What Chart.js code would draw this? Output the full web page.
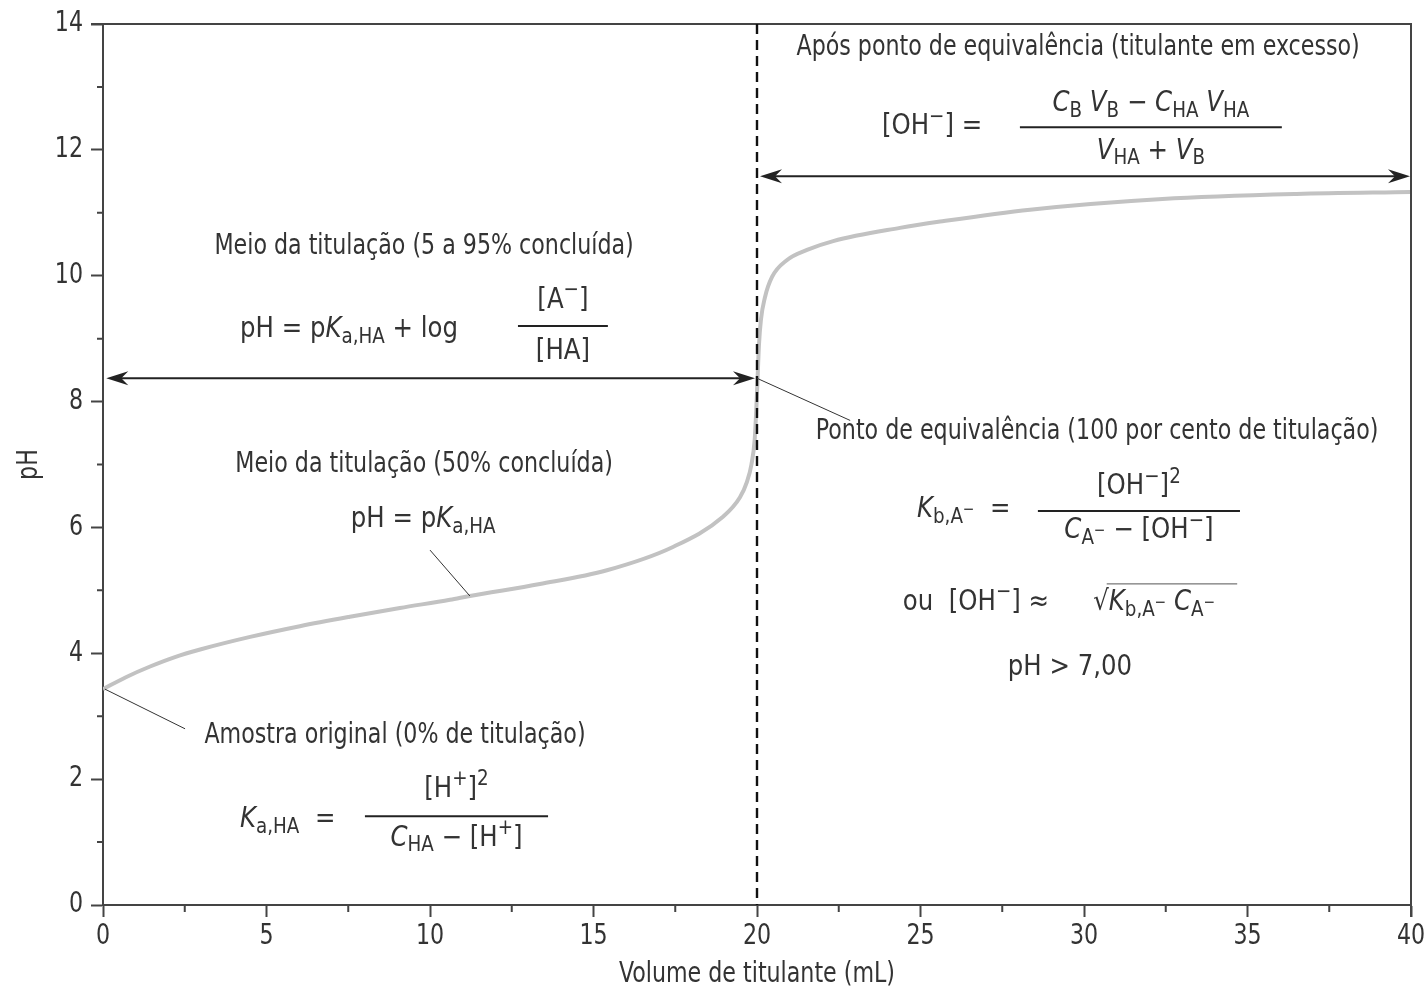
<!DOCTYPE html>
<html>
<head>
<meta charset="utf-8">
<script src="https://cdn.jsdelivr.net/npm/chart.js@4.4.1/dist/chart.umd.min.js"></script>
<style>
  html, body { margin: 0; padding: 0; background: #fff; }
  #wrap { width: 1427px; height: 992px; }
</style>
</head>
<body>
<div id="wrap"><canvas id="titulacao" width="1427" height="992"></canvas></div>
<script>
// curve: volume of titrant (mL) and pH
var volume = [0, 0.7, 1.44, 2.2, 2.97, 4.5, 6.02, 7.55, 9.08, 10.61, 11.22, 13.36, 15.41, 17.43, 18.96, 19.48, 19.69, 19.83, 19.93, 19.98, 20.02, 20.06, 20.12, 20.24, 20.46, 20.92, 21.53, 22.33, 24.37, 25.6, 28.35, 32.4, 36.5, 40];
var ph = [3.43, 3.62, 3.79, 3.94, 4.06, 4.26, 4.43, 4.58, 4.72, 4.85, 4.91, 5.10, 5.32, 5.69, 6.17, 6.48, 6.72, 7.0, 7.4, 7.9, 8.4, 8.9, 9.3, 9.65, 9.98, 10.25, 10.41, 10.55, 10.76, 10.86, 11.05, 11.22, 11.30, 11.33];

var xTicks = [0, 5, 10, 15, 20, 25, 30, 35, 40];
var yTicks = [0, 2, 4, 6, 8, 10, 12, 14];

var equivVolume = 20;
var equivPh = 8.37;
var excessArrowPh = 11.58;

var FONT = "'DejaVu Sans Condensed', 'Liberation Sans Narrow', sans-serif";
var TXT = '#333';
var SIZE = 28;
var NARROW = 0.88;   // prose
var MATH = 0.97;     // formulas

// labels (in data units) -- * toggles italic, _{ } subscript, ^{ } superscript
var labels = [
    {t: 'Após ponto de equivalência (titulante em excesso)', x: 29.82, y: 13.62, a: 'center'},
    {t: '[OH^{−}] =', x: 23.82, y: 12.36, a: 'left', k: MATH},
    {t: 'Meio da titulação (5 a 95% concluída)', x: 9.82, y: 10.46, a: 'center'},
    {t: 'pH = p*K*_{a,HA} + log', x: 4.19, y: 9.14, a: 'left', k: MATH},
    {t: 'Meio da titulação (50% concluída)', x: 9.82, y: 6.99, a: 'center'},
    {t: 'pH = p*K*_{a,HA}', x: 9.79, y: 6.12, a: 'center', k: MATH},
    {t: 'Ponto de equivalência (100 por cento de titulação)', x: 30.4, y: 7.52, a: 'center'},
    {t: '*K*_{b,A^{−}}  =', x: 24.89, y: 6.28, a: 'left', k: MATH},
    {t: 'ou  [OH^{−}] ≈', x: 24.46, y: 4.80, a: 'left', k: MATH},
    {t: '√*K*_{b,A^{−}} *C*_{A^{−}}', x: 30.28, y: 4.80, a: 'left', k: MATH, root: true},
    {t: 'pH > 7,00', x: 29.57, y: 3.77, a: 'center', k: MATH},
    {t: 'Amostra original (0% de titulação)', x: 8.93, y: 2.69, a: 'center'},
    {t: '*K*_{a,HA}  =', x: 4.19, y: 1.35, a: 'left', k: MATH}
];

var fractions = [
    {num: '*C*_{B} *V*_{B} − *C*_{HA} *V*_{HA}', den: '*V*_{HA} + *V*_{B}', x1: 28.04, x2: 36.05, y: 12.36, ny: 12.73, dy: 11.97},
    {num: '[A^{−}]', den: '[HA]', x1: 12.69, x2: 15.44, y: 9.20, ny: 9.61, dy: 8.80},
    {num: '[OH^{−}]^{2}', den: '*C*_{A^{−}} − [OH^{−}]', x1: 28.59, x2: 34.77, y: 6.26, ny: 6.64, dy: 5.94},
    {num: '[H^{+}]^{2}', den: '*C*_{HA} − [H^{+}]', x1: 8.01, x2: 13.61, y: 1.41, ny: 1.83, dy: 1.06}
];

// thin leader lines, [x1, y1, x2, y2]
var leaders = [
    [0.06, 3.43, 2.51, 2.80],
    [10.0, 5.64, 11.22, 4.91],
    [20.0, 8.37, 22.85, 7.70]
];

function parseRich(str, size) {
    var out = [];
    var italic = false;
    function walk(s, scale, dy) {
        var buf = '';
        function flush() {
            if (buf) { out.push({t: buf, it: italic, sc: scale, dy: dy}); buf = ''; }
        }
        for (var i = 0; i < s.length; i++) {
            var c = s[i];
            if (c === '*') { flush(); italic = !italic; continue; }
            if ((c === '_' || c === '^') && s[i + 1] === '{') {
                flush();
                var depth = 1, j = i + 2;
                while (j < s.length && depth) {
                    if (s[j] === '{') depth++;
                    else if (s[j] === '}') depth--;
                    j++;
                }
                var inner = s.slice(i + 2, j - 1);
                var keep = italic;
                italic = false;
                walk(inner, scale * 0.75, dy + (c === '_' ? 0.26 : -0.36) * size * scale);
                italic = keep;
                i = j - 1;
                continue;
            }
            buf += c;
        }
        flush();
    }
    walk(str, 1, 0);
    return out;
}

function fontOf(seg, size) {
    return (seg.it ? 'italic ' : '') + (size * seg.sc).toFixed(1) + 'px ' + FONT;
}

// draws condensed rich text, returns its drawn width
function drawRich(ctx, str, x, y, align, k) {
    k = k || NARROW;
    var segs = parseRich(str, SIZE);
    var total = 0;
    segs.forEach(function (s) {
        ctx.font = fontOf(s, SIZE);
        s.w = ctx.measureText(s.t).width;
        total += s.w;
    });
    var start = align === 'center' ? -total / 2 : (align === 'right' ? -total : 0);
    ctx.save();
    ctx.translate(x, y);
    ctx.scale(k, 1);
    ctx.textAlign = 'left';
    ctx.textBaseline = 'middle';
    ctx.fillStyle = TXT;
    var cx = start;
    segs.forEach(function (s) {
        ctx.font = fontOf(s, SIZE);
        ctx.fillText(s.t, cx, s.dy);
        cx += s.w;
    });
    ctx.restore();
    return total * k;
}

function arrowHead(ctx, x, y, dir) {
    ctx.beginPath();
    ctx.moveTo(x, y);
    ctx.lineTo(x - dir * 22, y - 7);
    ctx.lineTo(x - dir * 15, y);
    ctx.lineTo(x - dir * 22, y + 7);
    ctx.closePath();
    ctx.fill();
}

var decorPlugin = {
    id: 'decor',
    afterDatasetsDraw: function (chart) {
        var ctx = chart.ctx;
        var xs = chart.scales.x, ys = chart.scales.y;
        var area = chart.chartArea;
        ctx.save();

        // top and right frame
        ctx.strokeStyle = '#444';
        ctx.lineWidth = 2;
        ctx.beginPath();
        ctx.moveTo(area.left - 12, area.top);
        ctx.lineTo(area.right, area.top);
        ctx.lineTo(area.right, area.bottom + 12);
        ctx.stroke();

        // minor ticks
        ctx.beginPath();
        for (var v = 1; v < 14; v += 2) {
            var py = ys.getPixelForValue(v);
            ctx.moveTo(area.left, py);
            ctx.lineTo(area.left - 6, py);
        }
        for (var u = 2.5; u < 40; u += 5) {
            var px = xs.getPixelForValue(u);
            ctx.moveTo(px, area.bottom);
            ctx.lineTo(px, area.bottom + 7);
        }
        ctx.stroke();

        // tick labels and axis titles
        yTicks.forEach(function (t) {
            drawRich(ctx, String(t), area.left - 20, ys.getPixelForValue(t), 'right');
        });
        xTicks.forEach(function (t) {
            drawRich(ctx, String(t), xs.getPixelForValue(t), area.bottom + 32, 'center');
        });
        drawRich(ctx, 'Volume de titulante (mL)', (area.left + area.right) / 2, area.bottom + 70, 'center');
        ctx.save();
        ctx.translate(30, (area.top + area.bottom) / 2);
        ctx.rotate(-Math.PI / 2);
        drawRich(ctx, 'pH', 0, 0, 'center');
        ctx.restore();

        // dashed line at the equivalence point
        ctx.strokeStyle = '#111';
        ctx.lineWidth = 2.4;
        ctx.setLineDash([10, 6]);
        ctx.beginPath();
        ctx.moveTo(xs.getPixelForValue(equivVolume), ys.getPixelForValue(14));
        ctx.lineTo(xs.getPixelForValue(equivVolume), ys.getPixelForValue(0));
        ctx.stroke();
        ctx.setLineDash([]);

        // double arrows
        ctx.strokeStyle = '#222';
        ctx.fillStyle = '#222';
        ctx.lineWidth = 2;
        var ay = ys.getPixelForValue(equivPh);
        var a1 = xs.getPixelForValue(0.1), a2 = xs.getPixelForValue(equivVolume) - 2;
        ctx.beginPath(); ctx.moveTo(a1 + 10, ay); ctx.lineTo(a2 - 10, ay); ctx.stroke();
        arrowHead(ctx, a1, ay, -1);
        arrowHead(ctx, a2, ay, 1);
        var by = ys.getPixelForValue(excessArrowPh);
        var b1 = xs.getPixelForValue(equivVolume) + 3, b2 = xs.getPixelForValue(40) - 1;
        ctx.beginPath(); ctx.moveTo(b1 + 10, by); ctx.lineTo(b2 - 10, by); ctx.stroke();
        arrowHead(ctx, b1, by, -1);
        arrowHead(ctx, b2, by, 1);

        // leader lines
        ctx.strokeStyle = '#333';
        ctx.lineWidth = 1;
        leaders.forEach(function (l) {
            ctx.beginPath();
            ctx.moveTo(xs.getPixelForValue(l[0]), ys.getPixelForValue(l[1]));
            ctx.lineTo(xs.getPixelForValue(l[2]), ys.getPixelForValue(l[3]));
            ctx.stroke();
        });

        // annotation text
        labels.forEach(function (lb) {
            var lx = xs.getPixelForValue(lb.x), ly = ys.getPixelForValue(lb.y);
            var w = drawRich(ctx, lb.t, lx, ly, lb.a, lb.k);
            if (lb.root) {
                ctx.font = SIZE + 'px ' + FONT;
                var rw = ctx.measureText('√').width * lb.k;
                var oy = ly - SIZE * 0.68;
                ctx.strokeStyle = '#555';
                ctx.lineWidth = 1;
                ctx.beginPath(); ctx.moveTo(lx + rw - 2, oy); ctx.lineTo(lx + w + 22, oy); ctx.stroke();
            }
        });

        fractions.forEach(function (f) {
            var x1 = xs.getPixelForValue(f.x1), x2 = xs.getPixelForValue(f.x2);
            var fy = ys.getPixelForValue(f.y);
            ctx.strokeStyle = '#222';
            ctx.lineWidth = 2;
            ctx.beginPath(); ctx.moveTo(x1, fy); ctx.lineTo(x2, fy); ctx.stroke();
            var cx = (x1 + x2) / 2;
            drawRich(ctx, f.num, cx, ys.getPixelForValue(f.ny), 'center', MATH);
            drawRich(ctx, f.den, cx, ys.getPixelForValue(f.dy), 'center', MATH);
        });

        ctx.restore();
    }
};

var points = volume.map(function (v, i) { return {x: v, y: ph[i]}; });

Chart.defaults.font.family = FONT;
Chart.defaults.color = TXT;

var ctx = document.getElementById('titulacao').getContext('2d');
new Chart(ctx, {
    type: 'line',
    data: {
        datasets: [{
            label: 'pH',
            data: points,
            borderColor: '#c2c2c2',
            borderWidth: 4,
            pointRadius: 0,
            fill: false,
            cubicInterpolationMode: 'monotone'
        }]
    },
    options: {
        responsive: false,
        animation: false,
        layout: {padding: {top: 24, right: 16, left: 0, bottom: 0}},
        plugins: {legend: {display: false}, tooltip: {enabled: false}},
        scales: {
            x: {
                type: 'linear',
                min: 0, max: 40,
                afterFit: function (s) { s.height = 87; s.paddingLeft = 0; s.paddingRight = 0; },
                border: {display: true, color: '#444', width: 2},
                grid: {
                    drawOnChartArea: false, drawTicks: true, tickLength: 12, tickWidth: 2,
                    tickColor: function (c) { return xTicks.indexOf(c.tick.value) >= 0 ? '#444' : 'rgba(0,0,0,0)'; }
                },
                ticks: {stepSize: 2.5, autoSkip: false, maxRotation: 0, display: false}
            },
            y: {
                min: 0, max: 14,
                afterFit: function (s) { s.width = 103; s.paddingTop = 0; s.paddingBottom = 0; },
                border: {display: true, color: '#444', width: 2},
                grid: {
                    drawOnChartArea: false, drawTicks: true, tickLength: 12, tickWidth: 2,
                    tickColor: function (c) { return yTicks.indexOf(c.tick.value) >= 0 ? '#444' : 'rgba(0,0,0,0)'; }
                },
                ticks: {stepSize: 1, autoSkip: false, display: false}
            }
        }
    },
    plugins: [decorPlugin]
});
</script>
</body>
</html>
